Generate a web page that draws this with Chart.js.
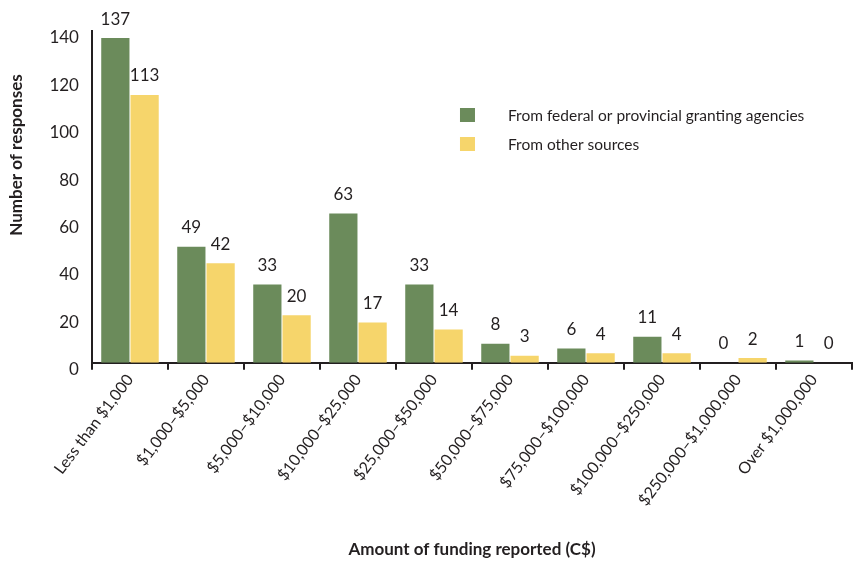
<!DOCTYPE html>
<html><head><meta charset="utf-8">
<script src="https://cdn.jsdelivr.net/npm/chart.js@4/dist/chart.umd.min.js"></script>
<style>html,body{margin:0;padding:0;background:#fff}#wrap{width:854px;height:561px}</style>
</head><body><div id="wrap"><canvas id="c" width="854" height="561"></canvas></div>
<script>
const categories = ["Less than $1,000","$1,000\u2013$5,000","$5,000\u2013$10,000","$10,000\u2013$25,000","$25,000\u2013$50,000","$50,000\u2013$75,000","$75,000\u2013$100,000","$100,000\u2013$250,000","$250,000\u2013$1,000,000","Over $1,000,000"];
const federalValues = [137,49,33,63,33,8,6,11,0,1];
const otherValues = [113,42,20,17,14,3,4,4,2,0];
const yTicks = [0,20,40,60,80,100,120,140];
const seriesNames = ["From federal or provincial granting agencies","From other sources"];
const yTitle = "Number of responses";
const xTitle = "Amount of funding reported (C$)";
const FONT = "Lato, 'Open Sans', sans-serif";
const INK = "#231f20";

const valueLabels = {
  id:'valueLabels',
  afterDatasetsDraw(chart){
    const ctx = chart.ctx;
    ctx.save();
    ctx.font = "17px " + FONT;
    ctx.fillStyle = INK;
    ctx.textAlign = 'center';
    ctx.textBaseline = 'middle';
    chart.data.datasets.forEach((ds,i)=>{
      const meta = chart.getDatasetMeta(i);
      meta.data.forEach((el,j)=>{
        ctx.fillText(String(ds.data[j]), el.x, el.y - 19);
      });
    });
    ctx.restore();
  }
};
const customLegend = {
  id:'customLegend',
  afterDraw(chart){
    const ctx = chart.ctx, a = chart.chartArea;
    ctx.save();
    ctx.font = "15.5px " + FONT;
    ctx.textBaseline = 'middle';
    ctx.textAlign = 'left';
    chart.data.datasets.forEach((ds,i)=>{
      const bx = a.left + 368, by = a.top + 77 + i*29;
      ctx.fillStyle = ds.backgroundColor;
      ctx.fillRect(bx, by, 15, 14);
      ctx.fillStyle = INK;
      ctx.fillText(ds.label, bx + 48, by + 8);
    });
    // y axis title, placed higher than centre as in the reference
    const ys = chart.scales.y;
    ctx.font = "bold 17px " + FONT;
    ctx.textAlign = 'center';
    ctx.translate(ys.left + 17, a.top + 124);
    ctx.rotate(-Math.PI/2);
    ctx.fillText(yTitle, 0, 0);
    ctx.restore();
  }
};

new Chart(document.getElementById('c'), {
  type:'bar',
  data:{
    labels: categories,
    datasets:[
      {label: seriesNames[0], data: federalValues, backgroundColor:'#6b8b5b', categoryPercentage:0.77, barPercentage:0.965},
      {label: seriesNames[1], data: otherValues, backgroundColor:'#f6d56b', categoryPercentage:0.77, barPercentage:0.965}
    ]
  },
  options:{
    responsive:false,
    animation:false,
    layout:{padding:{left:0,right:2,top:31,bottom:1}},
    plugins:{legend:{display:false},tooltip:{enabled:false}},
    scales:{
      x:{
        grid:{display:true, drawOnChartArea:false, drawTicks:true, tickLength:7, color:INK, lineWidth:2, offset:true},
        border:{display:true,color:INK,width:2},
        ticks:{color:INK, font:{family:FONT,size:16}, maxRotation:53, minRotation:53, padding:1},
        title:{display:true,text:xTitle,color:INK,font:{family:FONT,size:17,weight:'bold'},padding:{top:29,bottom:0}}
      },
      y:{
        min:0,max:140,
        afterBuildTicks(scale){ scale.ticks = yTicks.map(v=>({value:v})); },
        grid:{display:false, drawTicks:false},
        border:{display:true,color:INK,width:2},
        ticks:{color:INK, font:{family:FONT,size:17}, padding:13, labelOffset:7},
        title:{display:true,text:yTitle,color:'rgba(0,0,0,0)',font:{family:FONT,size:17,weight:'bold'},padding:{bottom:12}}
      }
    }
  },
  plugins:[valueLabels, customLegend]
});
</script></body></html>
